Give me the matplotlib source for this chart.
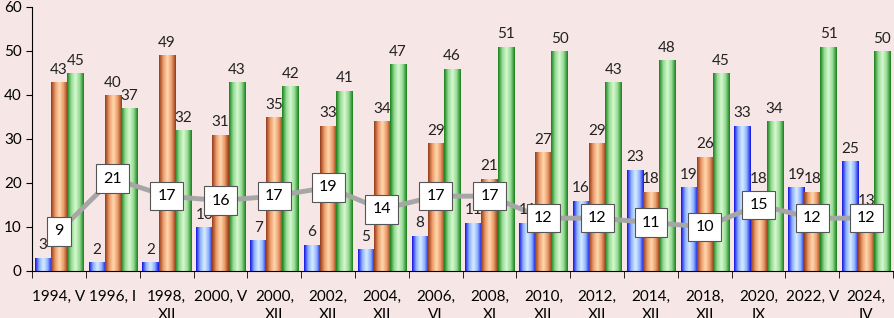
import numpy as np
import matplotlib.pyplot as plt
from matplotlib.colors import LinearSegmentedColormap

categories = ['1994, V', '1996, I', '1998,\nXII', '2000, V', '2000,\nXII', '2002,\nXII',
              '2004,\nXII', '2006,\nVI', '2008,\nXI', '2010,\nXII', '2012,\nXII', '2014,\nXII',
              '2018,\nXII', '2020,\nIX', '2022, V', '2024,\nIV']
blue_vals = [3, 2, 2, 10, 7, 6, 5, 8, 11, 11, 16, 23, 19, 33, 19, 25]
orange_vals = [43, 40, 49, 31, 35, 33, 34, 29, 21, 27, 29, 18, 26, 18, 18, 13]
green_vals = [45, 37, 32, 43, 42, 41, 47, 46, 51, 50, 43, 48, 45, 34, 51, 50]
line_vals = [9, 21, 17, 16, 17, 19, 14, 17, 17, 12, 12, 11, 10, 15, 12, 12]

plt.rcParams['font.family'] = ['Lato', 'DejaVu Sans']

bg = '#f7e6e6'
fig = plt.figure(figsize=(8.94, 3.18), dpi=100, facecolor=bg)
ax = fig.add_axes([0.036, 0.148, 0.963, 0.83])
ax.set_facecolor(bg)

x = np.arange(len(categories))
w = 0.3

cmaps = {
    'blue': LinearSegmentedColormap.from_list('b', ['#1414e0', '#8fb4ff', '#d8ecff', '#8fb4ff', '#1414e0']),
    'orange': LinearSegmentedColormap.from_list('o', ['#943c18', '#ec9c6a', '#ffd8b0', '#ec9c6a', '#943c18']),
    'green': LinearSegmentedColormap.from_list('g', ['#1a801a', '#95dc95', '#d8f8d0', '#95dc95', '#1a801a']),
}
grad = np.linspace(0, 1, 64).reshape(1, -1)


def gradient_bars(xpos, vals, cmap):
    bars = ax.bar(xpos, vals, w, color='none', edgecolor='none', zorder=2)
    for b in bars:
        x0, y0 = b.get_x(), b.get_y()
        im = ax.imshow(grad, cmap=cmap, aspect='auto', zorder=2,
                       extent=(x0, x0 + b.get_width(), y0, y0 + b.get_height()))
        im.set_clip_path(b)
    return bars


series = [(x - w, blue_vals, 'blue'), (x, orange_vals, 'orange'), (x + w, green_vals, 'green')]
for xpos, vals, c in series:
    gradient_bars(xpos, vals, cmaps[c])
    for xi, v in zip(xpos, vals):
        ax.text(xi, v + 1.2, str(v), ha='center', va='bottom', fontsize=11, color='#222222', zorder=4)

ax.plot(x, line_vals, color='#a6a6a6', lw=3.5, zorder=3)
for xi, v in zip(x, line_vals):
    ax.text(xi, v, str(v), ha='center', va='center', fontsize=11.5, color='black', zorder=5,
            bbox=dict(boxstyle='square,pad=0.45', facecolor='white', edgecolor='#555555', lw=0.8))

ax.set_xlim(-0.5, len(categories) - 0.5)
ax.set_ylim(0, 60)
ax.set_yticks(range(0, 61, 10))
ax.tick_params(axis='y', labelsize=11, length=4, direction='out')
ax.set_xticks(x)
ax.set_xticklabels(categories, fontsize=11, linespacing=1.35, va='top')
ax.tick_params(axis='x', length=0, pad=14)
ax.set_xticks(np.arange(-0.5, len(categories), 1), minor=True)
ax.tick_params(axis='x', which='minor', length=5, direction='out')
for s in ['top', 'right']:
    ax.spines[s].set_visible(False)

fig.savefig('out.png', dpi=100, facecolor=bg)
